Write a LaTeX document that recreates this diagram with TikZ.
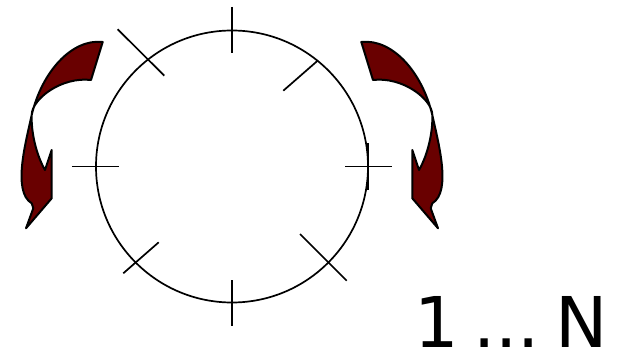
\documentclass[tikz,border=0pt]{standalone}
\usepackage{fontspec}
\setmainfont{DejaVu Sans}
\usepackage{tikz}
\definecolor{arrowred}{RGB}{105,0,0}

\begin{document}
\begin{tikzpicture}[
  x=0.5pt, y=0.5pt,
  ring/.style={draw, line width=0.85pt},
  tick/.style={line width=0.85pt},
  turn/.style={fill=arrowred, draw=black, line width=1pt, line join=round},
  lbl/.style={font=\fontsize{35}{40}\selectfont, inner sep=0pt, anchor=base}]
\useasboundingbox (-232,-191.5) rectangle (398,166.5);
\node[ring, circle, minimum size=136pt, inner sep=0pt] (wheel) at (0,0) {};
\draw[tick] (0,159.5) -- (0,113.5);
\draw[tick] (0,-113.5) -- (0,-159.5);
\draw[tick] (-160,0) -- (-113,0);
\draw[tick] (113,0) -- (159.7,0);
\draw[tick] (-114.3,137.2) -- (-67.7,90.8);
\draw[tick] (85.3,105.5) -- (51.3,75.8);
\draw[tick] (-108.7,-106.8) -- (-73.3,-75.8);
\draw[tick] (68,-67.5) -- (114.7,-114.2);
\draw[line width=1.4pt] (136,23) -- (136,-23);
\foreach \s in {1,-1}
  \filldraw[turn, xscale=\s] (-129.3,124.5)
    .. controls (-160,128) and (-190,95) .. (-200.3,51.5)
    .. controls (-206,25) and (-220,-25) .. (-200.3,-36.8)
    -- (-198.7,-41.8) -- (-206,-61.8) -- (-180.3,-31.8) -- (-180.3,16.5) -- (-187,-3.5)
    .. controls (-196,12) and (-201,35) .. (-200.3,51.5)
    .. controls (-200,68) and (-170,90) .. (-141,86.5)
    -- cycle;
\node[lbl] (range) at (279.5,-180.5) {1\hspace{0.2em}...\hspace{0.22em}N};
\end{tikzpicture}
\end{document}
